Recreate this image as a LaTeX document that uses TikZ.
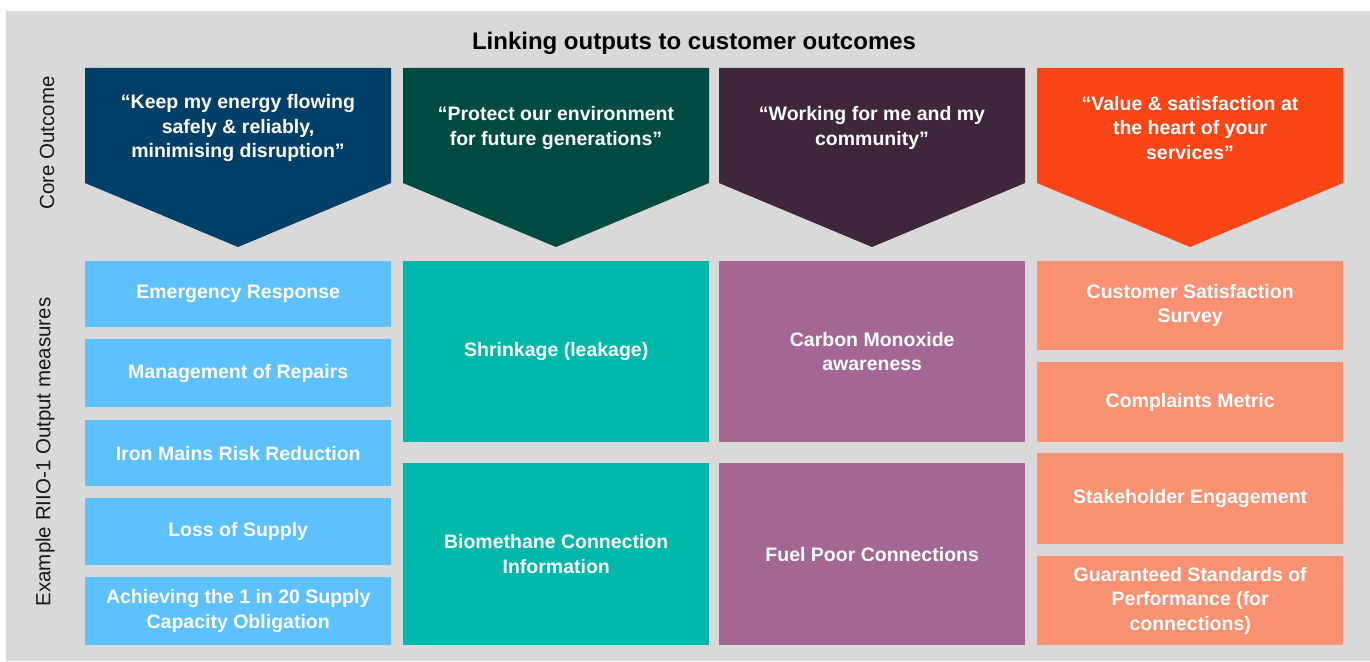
\documentclass[tikz,border=0pt]{standalone}
\usepackage{fontspec}
\setmainfont{Liberation Sans}
\definecolor{panel}{HTML}{D9D9D9}
\definecolor{navy}{HTML}{003F67}
\definecolor{forest}{HTML}{004B41}
\definecolor{plum}{HTML}{40263B}
\definecolor{flame}{HTML}{FA4616}
\definecolor{skyblue}{HTML}{5EC1FF}
\definecolor{teal}{HTML}{00B8A9}
\definecolor{mauve}{HTML}{A46794}
\definecolor{salmon}{HTML}{FA9173}
\tikzset{
  outcome/.style={
    text=white,align=center,
    font=\bfseries\fontsize{19.5}{24.5}\selectfont
  },
  measure/.style={
    text=white,align=center,anchor=north west,inner sep=0pt,
    minimum width=306,
    font=\bfseries\fontsize{19.5}{24.5}\selectfont
  },
  sidelabel/.style={
    rotate=90,text=black!90,
    font=\fontsize{20.5}{24}\selectfont
  }
}

\begin{document}
\begin{tikzpicture}[x=1pt,y=-1pt]
\useasboundingbox (0,0) rectangle (1370,661);
\fill[panel] (6,11) rectangle (1370,661);
\node[anchor=base,font=\bfseries\fontsize{24}{28}\selectfont] (title) at (694,50) {Linking outputs to customer outcomes};
\node[sidelabel] (core) at (47,143) {Core Outcome};
\node[sidelabel] (measures) at (45,452) {Example RIIO-1 Output measures};
% core outcomes
\foreach \x/\col/\txt [count=\i] in {
  85/navy/{“Keep my energy flowing\\safely \& reliably,\\minimising disruption”},
  403/forest/{“Protect our environment\\for future generations”},
  719/plum/{“Working for me and my\\community”},
  1037/flame/{“Value \& satisfaction at\\the heart of your\\services”}}
{
  \fill[\col] (\x,68) -- ++(306,0) -- ++(0,115) -- ++(-153,64) -- ++(-153,-64) -- cycle;
  \node[outcome] (outcome\i) at (\x+153,128) {\txt};
}
% output measures, one loop per column
\foreach \y/\h/\txt [count=\i] in {261/66/{Emergency Response},
  339/68/{Management of Repairs}, 420/66/{Iron Mains Risk Reduction},
  498/67/{Loss of Supply}, 577/68/{Achieving the 1 in 20 Supply\\Capacity Obligation}}
  \node[measure,fill=skyblue,minimum height=\h] (safe\i) at (85,\y) {\txt};
\foreach \y/\h/\txt [count=\i] in {261/181/{Shrinkage (leakage)},
  463/182/{Biomethane Connection\\Information}}
  \node[measure,fill=teal,minimum height=\h] (env\i) at (403,\y) {\txt};
\foreach \y/\h/\txt [count=\i] in {261/181/{Carbon Monoxide\\awareness},
  463/182/{Fuel Poor Connections}}
  \node[measure,fill=mauve,minimum height=\h] (comm\i) at (719,\y) {\txt};
\foreach \y/\h/\txt [count=\i] in {261/89/{Customer Satisfaction\\Survey},
  362/80/{Complaints Metric}, 453/91/{Stakeholder Engagement},
  556/89/{Guaranteed Standards of\\Performance (for\\connections)}}
  \node[measure,fill=salmon,minimum height=\h] (value\i) at (1037,\y) {\txt};
\end{tikzpicture}
\end{document}
